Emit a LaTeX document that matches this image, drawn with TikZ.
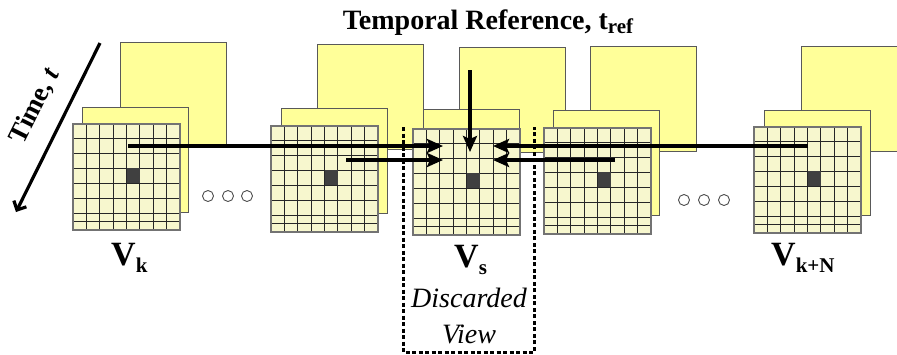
\documentclass[tikz,border=0pt]{standalone}
\usepackage{fontspec}
\setmainfont{Liberation Serif}
\usetikzlibrary{arrows.meta}
\definecolor{backyel}{HTML}{FFFF99}
\definecolor{gridyel}{HTML}{F7F7CE}
\definecolor{cellgray}{HTML}{404040}
\newcommand\gridcells[3]{%
  \node[gridbox] (#1) at (#2,#3) {};
  \begin{scope}[shift={(#2,#3)}]
    \foreach \c in {1,...,7} \draw[gridline] (\c*13.375,0) -- (\c*13.375,106);
    \foreach \r in {14,29,44,59,74,89,97} \draw[gridline] (0,\r) -- (107,\r);
    \fill[cellgray] (53.5,44) rectangle (66.875,59);
  \end{scope}
  \draw[gridborder] (#1.north west) rectangle (#1.south east);
}
\begin{document}
\begin{tikzpicture}[x=1pt,y=-1pt,
  backrect/.style={draw=black!65, line width=0.9pt, fill=backyel, anchor=north west,
    inner sep=0pt, outer sep=0pt, minimum width=106pt, minimum height=105pt},
  gridbox/.style={fill=gridyel, anchor=north west, inner sep=0pt, outer sep=0pt,
    minimum width=107pt, minimum height=106pt},
  gridline/.style={draw=black!85, line width=0.9pt},
  gridborder/.style={draw=black!55, line width=1.1pt},
  bigarrow/.style={line width=3.4pt, -{Stealth[length=16pt,width=14pt,inset=3pt]}},
  timearrow/.style={line width=3.2pt, -{Straight Barb[length=7pt,width=14pt]}},
  dots/.style={circle, draw=black!70, line width=0.9pt, minimum size=11pt, inner sep=0pt},
  vlabel/.style={font=\bfseries\fontsize{34}{36}\selectfont, anchor=base west, inner sep=0pt},
  dotbox/.style={line width=3pt, dash pattern=on 4pt off 2.5pt},
  ]
\useasboundingbox (0,0) rectangle (897,354);

% Time axis
\coordinate (t0) at (100,43);
\coordinate (t1) at (16,212);
\draw[timearrow] (t0) -- (t1);
\node[rotate=63.4, font=\bfseries\fontsize{27}{30}\selectfont, inner sep=0pt] (time) at (35,106) {Time, \textit{t}};

% Title
\node[font=\bfseries\fontsize{28}{30}\selectfont, anchor=base] (title) at (488,29)
  {Temporal Reference, t\raisebox{-4pt}{\fontsize{21}{21}\selectfont ref}};

% View k
\node[backrect] (kb) at (120,42) {};
\node[backrect] (km) at (82,107) {};
\gridcells{kg}{73}{124}

% View 2
\node[backrect] (bb) at (317,44) {};
\node[backrect] (bm) at (281,108) {};
\gridcells{bg}{271}{126}

% View s
\node[backrect] (sb) at (459,47) {};
\node[backrect, minimum width=96pt, minimum height=95pt] (sm) at (423,109) {};
\gridcells{sg}{413}{129}

% View 3
\node[backrect] (cb) at (590,46) {};
\node[backrect] (cm) at (553,110) {};
\gridcells{cg}{544}{128}

% View k+N
\node[backrect] (nb) at (801,46) {};
\node[backrect] (nm) at (764,110) {};
\gridcells{ng}{754}{127}

% ellipsis circles
\node[dots] (l1) at (208,196) {};
\node[dots] (l2) at (228,196) {};
\node[dots] (l3) at (247,196) {};
\node[dots] (r1) at (684,200) {};
\node[dots] (r2) at (704,200) {};
\node[dots] (r3) at (724,200) {};

% Discarded view box
\coordinate (d1) at (403,127);
\coordinate (d2) at (403,352);
\coordinate (d3) at (534,352);
\coordinate (d4) at (534,127);
\draw[dotbox] (d1) -- (d2) -- (d3) -- (d4);

% arrows
\coordinate (a1) at (128,146);
\coordinate (a2) at (346,160);
\coordinate (e1) at (443,146);
\coordinate (e2) at (443,160);
\coordinate (b1) at (808,146);
\coordinate (b2) at (615,160);
\coordinate (f1) at (493,146);
\coordinate (f2) at (493,160);
\coordinate (v0) at (470,70);
\coordinate (v1) at (470,152);
\draw[bigarrow] (a1) -- (e1);
\draw[bigarrow] (a2) -- (e2);
\draw[bigarrow] (b1) -- (f1);
\draw[bigarrow] (b2) -- (f2);
\draw[bigarrow] (v0) -- (v1);

% labels
\node[vlabel] (vk) at (111,265) {V\raisebox{-7pt}{\fontsize{21}{21}\selectfont k}};
\node[vlabel] (vs) at (454,267) {V\raisebox{-7pt}{\fontsize{21}{21}\selectfont s}};
\node[vlabel] (vn) at (771,265) {V\raisebox{-7pt}{\fontsize{21}{21}\selectfont k+N}};

\node[font=\itshape\fontsize{28}{30}\selectfont] (disc) at (469,298) {Discarded};
\node[font=\itshape\fontsize{28}{30}\selectfont] (view) at (469,334) {View};
\end{tikzpicture}
\end{document}
